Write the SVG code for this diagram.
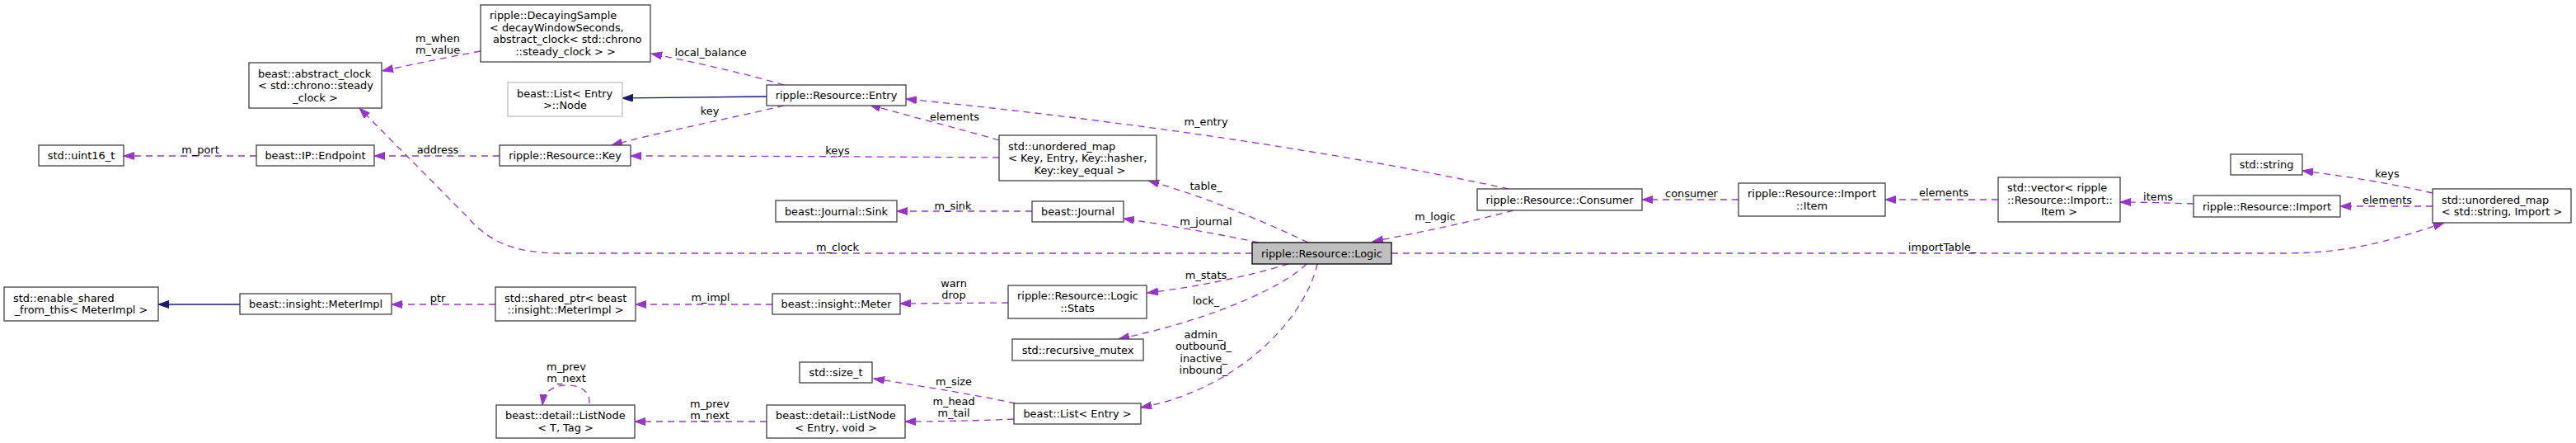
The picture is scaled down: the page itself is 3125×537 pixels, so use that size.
<svg xmlns="http://www.w3.org/2000/svg" width="3125" height="537" viewBox="0 0 3125 537">
<style>
text{font-family:"DejaVu Sans","Liberation Sans",sans-serif;font-size:12.9px;fill:#000}
.c{text-anchor:middle}
.box rect{fill:#fff;stroke:#404040;stroke-width:1.3}
.ext rect{fill:#fff;stroke:#bfbfbf;stroke-width:1.3}
.cur rect{fill:#bfbfbf;stroke:#000;stroke-width:1.3}
.u{fill:none;stroke:#9a32cd;stroke-width:1.3;stroke-dasharray:8,6;marker-end:url(#ap)}
.i{fill:none;stroke:#191970;stroke-width:1.3;marker-end:url(#an)}
</style>
<defs>
<marker id="ap" markerUnits="userSpaceOnUse" markerWidth="14" markerHeight="10" refX="13" refY="4.5" orient="auto"><path d="M0,0L13,4.5L0,9z" fill="#9a32cd" stroke="#9a32cd" stroke-width="1"/></marker>
<marker id="an" markerUnits="userSpaceOnUse" markerWidth="14" markerHeight="10" refX="13" refY="4.5" orient="auto"><path d="M0,0L13,4.5L0,9z" fill="#191970" stroke="#191970" stroke-width="1"/></marker>
</defs>
<rect width="3125" height="537" fill="#fff"/>
<g id="connectors">
<path class="u" d="M583,62 C540,70 500,78 464,86"/>
<path class="u" d="M951,103 C900,88 840,75 790,65"/>
<path class="i" d="M930,117 L755,119"/>
<path class="u" d="M951,128 C880,145 800,160 742,176"/>
<path class="u" d="M311,189 L150,189"/>
<path class="u" d="M606,189 L454,189"/>
<path class="u" d="M1212,170 C1160,155 1100,140 1055,127"/>
<path class="u" d="M1212,191 C1060,190 900,189 765,189"/>
<path class="u" d="M1830,229 C1580,175 1300,140 1099,120"/>
<path class="u" d="M1587,294 C1520,262 1450,235 1393,219"/>
<path class="u" d="M1252,256 L1088,256"/>
<path class="u" d="M1527,294 C1470,282 1410,272 1363,265"/>
<path class="u" d="M1519,307 L680,307 C620,307 590,290 566,262 L436,131"/>
<path class="u" d="M1563,320 C1510,336 1450,348 1392,355"/>
<path class="u" d="M1585,320 C1560,345 1480,385 1357,411"/>
<path class="u" d="M1598,320 C1585,380 1510,470 1384,494"/>
<path class="u" d="M1836,255 C1780,270 1720,282 1665,293"/>
<path class="u" d="M1688,307 L2770,307 C2850,307 2900,292 2965,270"/>
<path class="u" d="M2109,242 L1992,242"/>
<path class="u" d="M2424,242 L2287,242"/>
<path class="u" d="M2661,247 C2630,246 2600,245 2572,245"/>
<path class="u" d="M2951,250 L2839,250"/>
<path class="u" d="M2951,234 C2900,222 2840,213 2793,207"/>
<path class="i" d="M291,369 L192,369"/>
<path class="u" d="M601,369 L475,369"/>
<path class="u" d="M937,369 L771,369"/>
<path class="u" d="M1223,367 L1092,368"/>
<path class="u" d="M1232,489 C1170,476 1110,467 1060,459"/>
<path class="u" d="M1230,508 C1180,510 1140,511 1098,511"/>
<path class="u" d="M930,511 L770,511"/>
<path class="u" d="M715,489 C716,475 705,467 688,467 C672,467 660,473 658,491"/>
<text class="c" x="531" y="50.5">m_when</text>
<text class="c" x="531" y="65">m_value</text>
<text class="c" x="862" y="67.5">local_balance</text>
<text class="c" x="861" y="138.5">key</text>
<text class="c" x="243" y="185.5">m_port</text>
<text class="c" x="531" y="185.5">address</text>
<text class="c" x="1158" y="145.5">elements</text>
<text class="c" x="1016" y="186.5">keys</text>
<text class="c" x="1463" y="151.5">m_entry</text>
<text class="c" x="1463" y="229.5">table_</text>
<text class="c" x="1156" y="253.5">m_sink</text>
<text class="c" x="1463" y="272.5">m_journal</text>
<text class="c" x="1016" y="303.5">m_clock</text>
<text class="c" x="1463" y="337.5">m_stats</text>
<text class="c" x="1463" y="368.5">lock_</text>
<text class="c" x="1460" y="409.5">admin_</text>
<text class="c" x="1460" y="424">outbound_</text>
<text class="c" x="1460" y="438.5">inactive_</text>
<text class="c" x="1460" y="453">inbound_</text>
<text class="c" x="1741" y="266.5">m_logic</text>
<text class="c" x="2356" y="303.5">importTable_</text>
<text class="c" x="2052" y="238.5">consumer</text>
<text class="c" x="2358" y="237.5">elements</text>
<text class="c" x="2618" y="242.5">items</text>
<text class="c" x="2896" y="246.5">elements</text>
<text class="c" x="2896" y="214.5">keys</text>
<text class="c" x="531" y="365.5">ptr</text>
<text class="c" x="862" y="364.5">m_impl</text>
<text class="c" x="1157" y="347.5">warn</text>
<text class="c" x="1157" y="361.5">drop</text>
<text class="c" x="1157" y="466.5">m_size</text>
<text class="c" x="1157" y="490.5">m_head</text>
<text class="c" x="1157" y="505">m_tail</text>
<text class="c" x="861" y="493.5">m_prev</text>
<text class="c" x="861" y="507.5">m_next</text>
<text class="c" x="687" y="448.5">m_prev</text>
<text class="c" x="687" y="463">m_next</text>
</g>
<g id="n_decaying" class="box"><rect x="583" y="6" width="206" height="69"/><text x="594" y="23.25">ripple::DecayingSample</text><text x="594" y="37.75">&lt; decayWindowSeconds,</text><text x="598" y="52.25">abstract_clock&lt; std::chrono</text><text class="c" x="686" y="66.75">::steady_clock &gt; &gt;</text></g>
<g id="n_abstract_clock" class="box"><rect x="302" y="76" width="161" height="55"/><text x="313" y="93.5">beast::abstract_clock</text><text x="313" y="108">&lt; std::chrono::steady</text><text class="c" x="382.5" y="122.5">_clock &gt;</text></g>
<g id="n_listnode_entry" class="ext"><rect x="616" y="100" width="139" height="41"/><text x="627" y="117.75">beast::List&lt; Entry</text><text class="c" x="685.5" y="132.25">&gt;::Node</text></g>
<g id="n_uint16" class="box"><rect x="47" y="176" width="103" height="25"/><text class="c" x="98.5" y="193">std::uint16_t</text></g>
<g id="n_endpoint" class="box"><rect x="311" y="176" width="143" height="25"/><text class="c" x="382.5" y="193">beast::IP::Endpoint</text></g>
<g id="n_key" class="box"><rect x="606" y="176" width="159" height="25"/><text class="c" x="685.5" y="193">ripple::Resource::Key</text></g>
<g id="n_entry" class="box"><rect x="930" y="103" width="169" height="25"/><text class="c" x="1014.5" y="120">ripple::Resource::Entry</text></g>
<g id="n_umap_key" class="box"><rect x="1212" y="164" width="191" height="55"/><text x="1223" y="181.5">std::unordered_map</text><text x="1223" y="196">&lt; Key, Entry, Key::hasher,</text><text class="c" x="1310" y="210.5">Key::key_equal &gt;</text></g>
<g id="n_sink" class="box"><rect x="941" y="243" width="147" height="26"/><text class="c" x="1014.5" y="260.5">beast::Journal::Sink</text></g>
<g id="n_journal" class="box"><rect x="1252" y="244" width="111" height="25"/><text class="c" x="1307.5" y="261">beast::Journal</text></g>
<g id="n_logic" class="cur"><rect x="1519" y="294" width="169" height="26"/><text class="c" x="1603.5" y="311.5">ripple::Resource::Logic</text></g>
<g id="n_consumer" class="box"><rect x="1792" y="229" width="200" height="26"/><text class="c" x="1892" y="246.5">ripple::Resource::Consumer</text></g>
<g id="n_item" class="box"><rect x="2109" y="222" width="178" height="40"/><text x="2120" y="239.25">ripple::Resource::Import</text><text class="c" x="2198" y="253.75">::Item</text></g>
<g id="n_vector" class="box"><rect x="2424" y="215" width="148" height="54"/><text x="2435" y="232">std::vector&lt; ripple</text><text x="2435" y="246.5">::Resource::Import::</text><text class="c" x="2498" y="261">Item &gt;</text></g>
<g id="n_string" class="box"><rect x="2706" y="187" width="87" height="25"/><text class="c" x="2749.5" y="204">std::string</text></g>
<g id="n_import" class="box"><rect x="2661" y="237" width="178" height="26"/><text class="c" x="2750" y="254.5">ripple::Resource::Import</text></g>
<g id="n_umap_import" class="box"><rect x="2951" y="229" width="168" height="41"/><text x="2962" y="246.75">std::unordered_map</text><text class="c" x="3035" y="261.25">&lt; std::string, Import &gt;</text></g>
<g id="n_enable_shared" class="box"><rect x="5" y="348" width="187" height="41"/><text x="16" y="365.75">std::enable_shared</text><text class="c" x="98.5" y="380.25">_from_this&lt; MeterImpl &gt;</text></g>
<g id="n_meterimpl" class="box"><rect x="291" y="356" width="184" height="25"/><text class="c" x="383" y="373">beast::insight::MeterImpl</text></g>
<g id="n_shared_ptr" class="box"><rect x="601" y="348" width="170" height="41"/><text x="612" y="365.75">std::shared_ptr&lt; beast</text><text class="c" x="686" y="380.25">::insight::MeterImpl &gt;</text></g>
<g id="n_meter" class="box"><rect x="937" y="356" width="155" height="25"/><text class="c" x="1014.5" y="373">beast::insight::Meter</text></g>
<g id="n_stats" class="box"><rect x="1223" y="346" width="168" height="40"/><text x="1234" y="363.25">ripple::Resource::Logic</text><text class="c" x="1307" y="377.75">::Stats</text></g>
<g id="n_mutex" class="box"><rect x="1228" y="411" width="159" height="26"/><text class="c" x="1307.5" y="428.5">std::recursive_mutex</text></g>
<g id="n_size_t" class="box"><rect x="970" y="439" width="88" height="25"/><text class="c" x="1014" y="456">std::size_t</text></g>
<g id="n_list_entry" class="box"><rect x="1230" y="489" width="154" height="25"/><text class="c" x="1307" y="506">beast::List&lt; Entry &gt;</text></g>
<g id="n_listnode_ev" class="box"><rect x="930" y="491" width="168" height="40"/><text x="941" y="508.25">beast::detail::ListNode</text><text class="c" x="1014" y="522.75">&lt; Entry, void &gt;</text></g>
<g id="n_listnode_tt" class="box"><rect x="602" y="491" width="168" height="40"/><text x="613" y="508.25">beast::detail::ListNode</text><text class="c" x="686" y="522.75">&lt; T, Tag &gt;</text></g>
</svg>
